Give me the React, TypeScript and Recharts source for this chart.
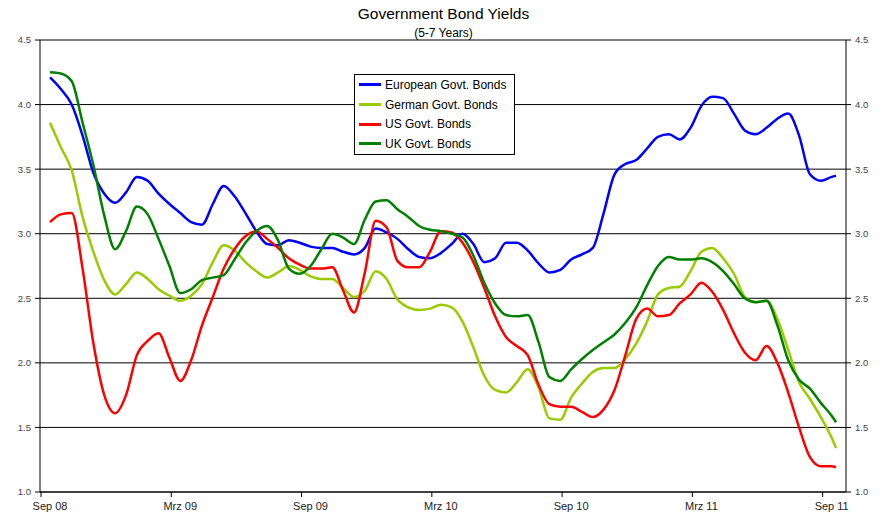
import React from "react";
import {
  LineChart,
  Line,
  XAxis,
  YAxis,
  CartesianGrid,
} from "recharts";

// months since Sep 08 (half-month steps), last point a few days past Sep 11
const months = [
  0, 0.5, 1, 1.5, 2, 2.5, 3, 3.5, 4, 4.5, 5, 5.5, 6, 6.5, 7, 7.5, 8, 8.5, 9, 9.5,
  10, 10.5, 11, 11.5, 12, 12.5, 13, 13.5, 14, 14.5, 15, 15.5, 16, 16.5, 17, 17.5,
  18, 18.5, 19, 19.5, 20, 20.5, 21, 21.5, 22, 22.5, 23, 23.5, 24, 24.5, 25, 25.5,
  26, 26.5, 27, 27.5, 28, 28.5, 29, 29.5, 30, 30.5, 31, 31.5, 32, 32.5, 33, 33.5,
  34, 34.5, 35, 35.5, 36, 36.2,
];

const european = [
  4.21, 4.12, 4.0, 3.76, 3.47, 3.31, 3.24, 3.32, 3.44, 3.41, 3.31, 3.23, 3.16, 3.09,
  3.07, 3.23, 3.37, 3.29, 3.16, 3.02, 2.92, 2.91, 2.95, 2.93, 2.9, 2.89, 2.89, 2.86,
  2.84, 2.89, 3.04, 3.01, 2.96, 2.88, 2.82, 2.81, 2.85, 2.92, 3.0, 2.92, 2.78, 2.81,
  2.93, 2.93, 2.87, 2.77, 2.7, 2.72, 2.8, 2.84, 2.89, 3.16, 3.46, 3.54, 3.57, 3.66,
  3.75, 3.77, 3.73, 3.82, 3.99, 4.06, 4.05, 3.93, 3.8, 3.77, 3.82, 3.89, 3.93, 3.76,
  3.46, 3.41, 3.44, 3.45,
];

const german = [
  3.86, 3.67, 3.49, 3.13, 2.86, 2.64, 2.53, 2.61, 2.7, 2.65, 2.57, 2.52, 2.48, 2.52,
  2.61, 2.78, 2.91, 2.87, 2.78, 2.71, 2.66, 2.7, 2.75, 2.72, 2.67, 2.65, 2.65, 2.58,
  2.51, 2.56, 2.71, 2.65, 2.49, 2.43, 2.41, 2.42, 2.45, 2.43, 2.32, 2.12, 1.9, 1.79,
  1.77, 1.85, 1.95, 1.81, 1.57, 1.56, 1.73, 1.84, 1.93, 1.96, 1.96, 2.03, 2.15, 2.32,
  2.53, 2.58, 2.59, 2.71, 2.86, 2.89, 2.81, 2.69, 2.51, 2.47, 2.48, 2.34, 2.1, 1.85,
  1.72, 1.58, 1.42, 1.34,
];

const us = [
  3.09, 3.15, 3.16, 2.73, 2.15, 1.75, 1.61, 1.75, 2.06, 2.17, 2.23, 2.04, 1.86, 2.02,
  2.29, 2.51, 2.73, 2.88, 2.98, 3.02, 2.96, 2.89, 2.81, 2.76, 2.73, 2.73, 2.74, 2.56,
  2.39, 2.7, 3.1, 3.05, 2.79, 2.74, 2.74, 2.86, 3.02, 3.01, 2.93, 2.78, 2.58, 2.36,
  2.2, 2.13, 2.06, 1.83, 1.68, 1.66, 1.66, 1.62, 1.58, 1.64, 1.79, 2.06, 2.34, 2.42,
  2.36, 2.37, 2.46, 2.53, 2.62, 2.55, 2.41, 2.23, 2.08, 2.02, 2.13, 2.0, 1.77, 1.5,
  1.27, 1.2, 1.2, 1.19,
];

const uk = [
  4.25, 4.24, 4.18, 3.86, 3.53, 3.14, 2.88, 3.02, 3.21, 3.15, 2.96, 2.75, 2.54, 2.57,
  2.64, 2.66, 2.68, 2.8, 2.93, 3.02, 3.06, 2.95, 2.73, 2.69, 2.75, 2.88, 3.0, 2.97,
  2.92, 3.11, 3.25, 3.26, 3.19, 3.13, 3.06, 3.03, 3.02, 3.0, 2.97, 2.83, 2.62, 2.46,
  2.37, 2.36, 2.37, 2.16, 1.89, 1.86, 1.95, 2.03, 2.1, 2.16, 2.22, 2.31, 2.43, 2.6,
  2.75, 2.82, 2.8, 2.8, 2.81, 2.78, 2.71, 2.61, 2.5, 2.47, 2.48, 2.29, 2.02, 1.87,
  1.8, 1.69, 1.59, 1.54,
];

const tickMonths = [0, 6, 12, 18, 24, 30, 36];
const tickLabels = ["Sep 08", "Mrz 09", "Sep 09", "Mrz 10", "Sep 10", "Mrz 11", "Sep 11"];
const yTicks = [1, 1.5, 2, 2.5, 3, 3.5, 4, 4.5];

const series = [
  { key: "european", name: "European Govt. Bonds", color: "#0000ff" },
  { key: "german", name: "German Govt. Bonds", color: "#99cc00" },
  { key: "us", name: "US Govt. Bonds", color: "#ff0000" },
  { key: "uk", name: "UK Govt. Bonds", color: "#008000" },
];

const data = months.map((m, i) => ({
  m,
  european: european[i],
  german: german[i],
  us: us[i],
  uk: uk[i],
}));

const FONT = "'Liberation Sans', Arial, sans-serif";

// tick mark sits a little left of the label, like the original
const MonthTick = (props: any) => {
  const { x, y, payload } = props;
  const idx = tickMonths.indexOf(payload.value);
  return (
    <g>
      <line x1={x - 9} y1={y} x2={x - 9} y2={y + 5} stroke="#000" />
      <text
        x={x}
        y={y + 18}
        textAnchor="middle"
        fontSize={11}
        fontFamily={FONT}
        fill="#222"
      >
        {tickLabels[idx]}
      </text>
    </g>
  );
};

const LegendBox = () => (
  <div
    style={{
      position: "absolute",
      left: 354,
      top: 74,
      width: 161,
      height: 81,
      boxSizing: "border-box",
      border: "1px solid #000",
      background: "#fff",
      fontFamily: FONT,
      zIndex: 2,
    }}
  >
    {series.map((s) => (
      <div
        key={s.key}
        style={{ display: "flex", alignItems: "center", height: 19.7, paddingLeft: 4 }}
      >
        <span
          style={{ display: "inline-block", width: 22, height: 3, background: s.color, marginRight: 4 }}
        />
        <span style={{ fontSize: 12, color: "#000", whiteSpace: "nowrap" }}>{s.name}</span>
      </div>
    ))}
  </div>
);

export default function App() {
  const yTick = { fontSize: 9.5, fill: "#444", fontFamily: FONT };
  return (
    <div
      style={{
        position: "absolute",
        left: 0,
        top: 0,
        width: 887,
        height: 520,
        background: "#fff",
      }}
    >
      <div
        style={{
          position: "absolute",
          left: 0,
          top: 6,
          width: 887,
          textAlign: "center",
          fontFamily: FONT,
          fontSize: 15.5,
          lineHeight: "15.5px",
          color: "#000",
        }}
      >
        Government Bond Yields
      </div>
      <div
        style={{
          position: "absolute",
          left: 0,
          top: 27,
          width: 887,
          textAlign: "center",
          fontFamily: FONT,
          fontSize: 12,
          lineHeight: "12px",
          color: "#000",
        }}
      >
        (5-7 Years)
      </div>
      <LineChart
        width={887}
        height={520}
        data={data}
        margin={{ top: 40, right: 0, bottom: 0, left: 0 }}
      >
        <CartesianGrid yAxisId="left" vertical={false} stroke="#000" />
        <XAxis
          dataKey="m"
          type="number"
          domain={[0, 36.2]}
          ticks={tickMonths}
          padding={{ left: 10, right: 10 }}
          height={28}
          tickSize={0}
          tickMargin={0}
          tickLine={false}
          axisLine={{ stroke: "#000" }}
          tick={<MonthTick />}
          interval={0}
        />
        <YAxis
          yAxisId="left"
          width={40}
          domain={[1, 4.5]}
          ticks={yTicks}
          tickSize={5}
          tickMargin={4}
          axisLine={{ stroke: "#000" }}
          tickLine={{ stroke: "#000" }}
          tick={yTick}
          tickFormatter={(v: number) => v.toFixed(1)}
          interval={0}
        />
        <YAxis
          yAxisId="right"
          orientation="right"
          width={41}
          domain={[1, 4.5]}
          ticks={yTicks}
          tickSize={5}
          tickMargin={4}
          axisLine={{ stroke: "#000" }}
          tickLine={{ stroke: "#000" }}
          tick={yTick}
          tickFormatter={(v: number) => v.toFixed(1)}
          interval={0}
          allowDataOverflow
        />
        {series.map((s) => (
          <Line
            key={s.key}
            yAxisId="left"
            type="monotone"
            dataKey={s.key}
            name={s.name}
            stroke={s.color}
            strokeWidth={2.5}
            dot={false}
            isAnimationActive={false}
          />
        ))}
      </LineChart>
      <LegendBox />
    </div>
  );
}
